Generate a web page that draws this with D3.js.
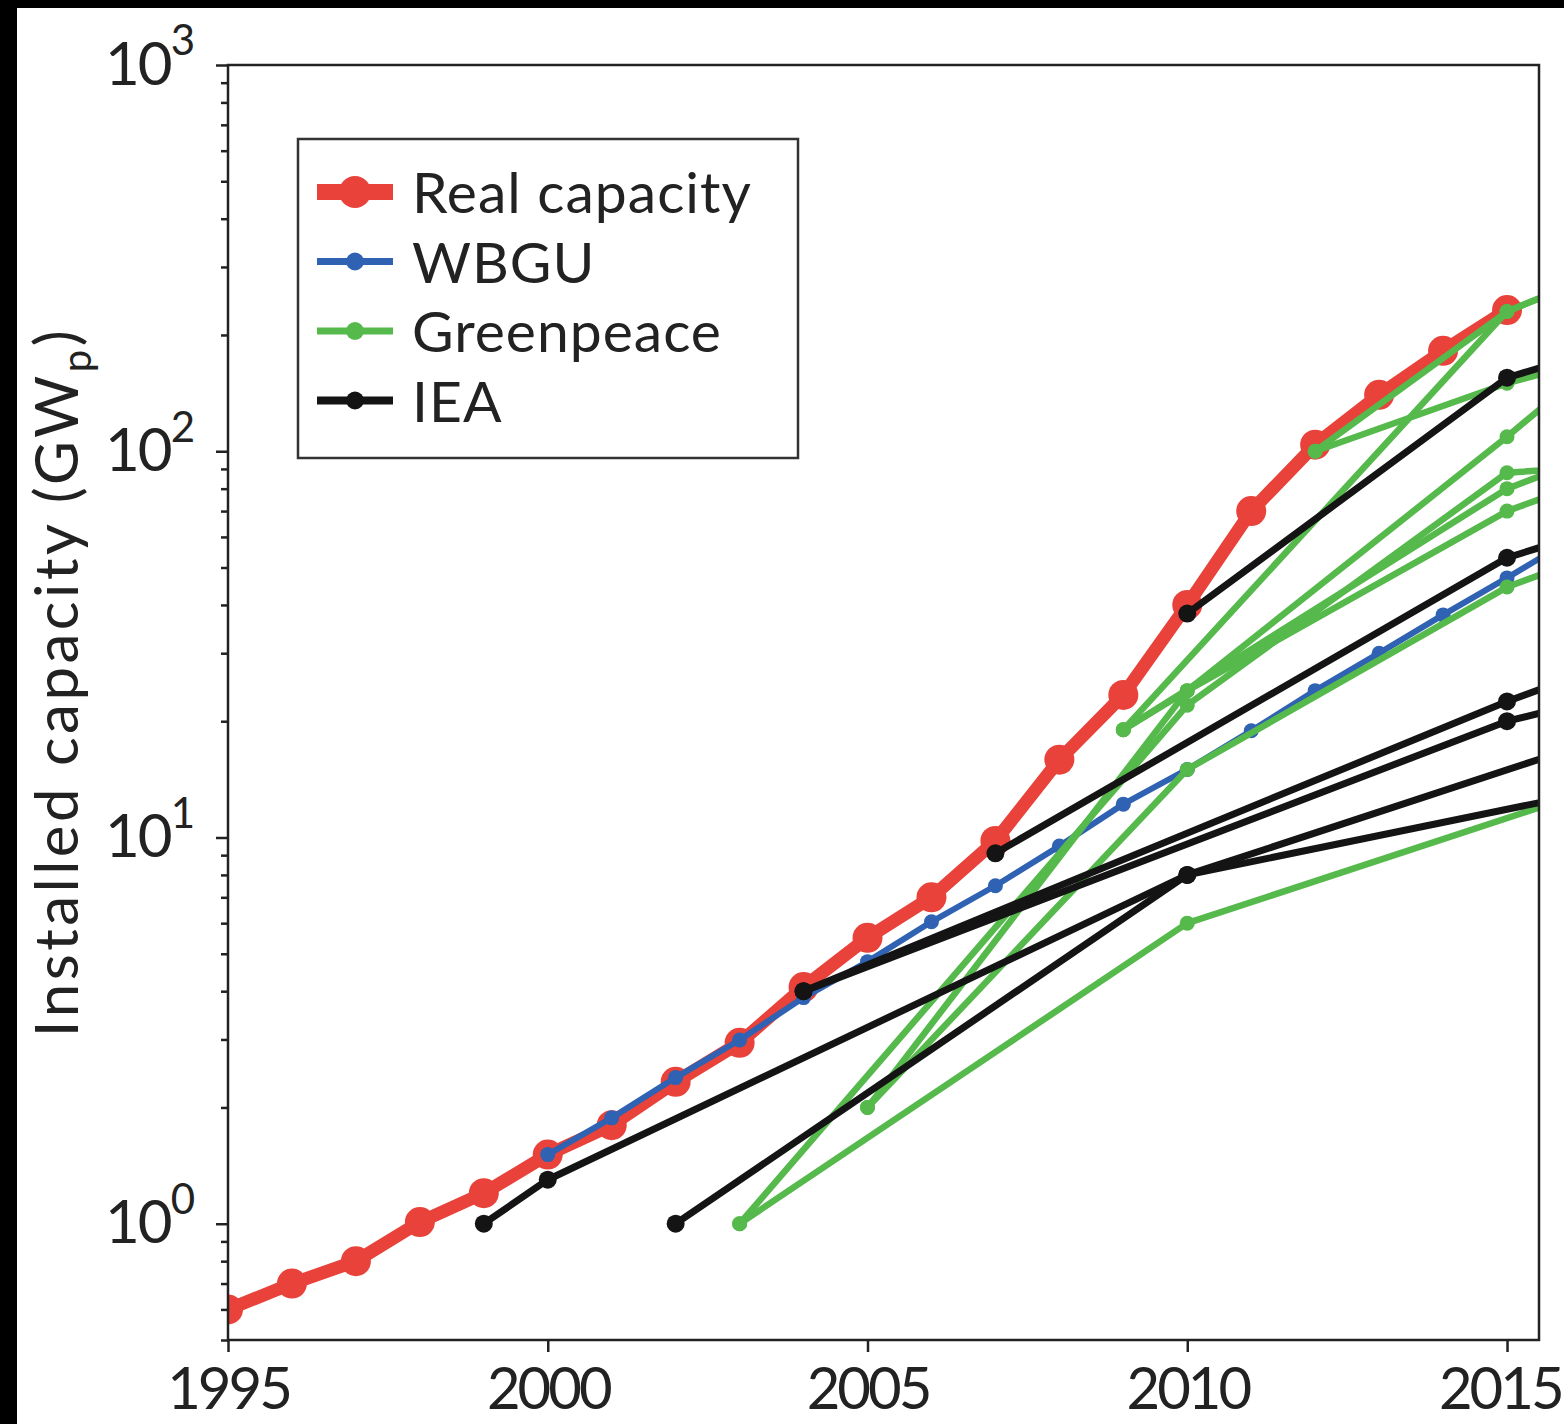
<!DOCTYPE html>
<html>
<head>
<meta charset="utf-8">
<script src="https://cdn.jsdelivr.net/npm/d3@7"></script>
<style>
  body { margin: 0; background: #000; }
  svg { display: block; }
  text { font-family: Lato, "Open Sans", sans-serif; font-weight: 400; fill: #222; }
</style>
</head>
<body>
<svg id="chart" width="1564" height="1424"></svg>
<script>

// real installed capacity, one value per year 1995..2015
const years = [1995, 1996, 1997, 1998, 1999, 2000, 2001, 2002, 2003, 2004, 2005,
               2006, 2007, 2008, 2009, 2010, 2011, 2012, 2013, 2014, 2015];
const realCapacity = [0.60, 0.70, 0.80, 1.01, 1.20, 1.51, 1.80, 2.33, 2.94, 4.1, 5.5,
                      7.0, 9.8, 15.9, 23.4, 40, 70, 104, 140, 182, 232];

// WBGU projection (yearly points, runs off the right edge)
const wbguYears = [2000, 2001, 2002, 2003, 2004, 2005, 2006, 2007, 2008,
                   2009, 2010, 2011, 2012, 2013, 2014, 2015, 2016];
const wbguValues = [1.51, 1.88, 2.39, 2.99, 3.85, 4.77, 6.05, 7.5, 9.5,
                    12.2, 15.0, 18.9, 24, 30, 37.7, 47, 59];

// Greenpeace scenarios: [year, GWp]
const greenpeace = [
  [[2003, 1.0], [2010, 6.0], [2020, 21]],
  [[2003, 1.0], [2010, 22], [2015, 88], [2020, 100]],
  [[2005, 2.0], [2010, 15], [2015, 44.5], [2020, 90]],
  [[2005, 2.0], [2010, 24], [2015, 70], [2020, 140]],
  [[2009, 19], [2015, 230], [2020, 500]],
  [[2009, 19], [2010, 24], [2015, 109], [2020, 540]],
  [[2009, 19], [2015, 80], [2020, 165]],
  [[2012, 100], [2015, 230], [2020, 500]],
  [[2012, 100], [2015, 150], [2020, 250]]
];

// IEA scenarios: [year, GWp]
const iea = [
  [[1999, 1.0], [2000, 1.3], [2010, 8.0], [2020, 17.5]],
  [[2002, 1.0], [2010, 8.0], [2020, 28]],
  [[2004, 4.0], [2015, 22.5], [2020, 45]],
  [[2004, 4.0], [2015, 20], [2020, 32]],
  [[2007, 9.1], [2015, 53], [2020, 96]],
  [[2010, 38], [2015, 155], [2020, 276]]
];

const xTicks = [1995, 2000, 2005, 2010, 2015];
const yTicks = [1, 10, 100, 1000];
const yMinorTicks = [0.5, 0.6, 0.7, 0.8, 0.9, 2, 3, 4, 5, 6, 7, 8, 9,
                     20, 30, 40, 50, 60, 70, 80, 90, 200, 300, 400, 500, 600, 700, 800, 900];
const legendLabels = ["Real capacity", "WBGU", "Greenpeace", "IEA"];

const RED = "#e8423a", BLUE = "#2f62b2", GREEN = "#56b94c", BLACK = "#141414";

const svg = d3.select("#chart");

// white page with the black scan border at top and left
svg.append("rect").attr("x", 17).attr("y", 8).attr("width", 1564 - 17).attr("height", 1424 - 8).attr("fill", "#fff");

const pLeft = 228, pTop = 65, pRight = 1539, pBottom = 1340;

const x = d3.scaleLinear().domain([1995, 2015.5]).range([pLeft, pRight]);
const y = d3.scaleLog().domain([0.5, 1000]).range([pBottom, pTop]);

svg.append("clipPath").attr("id", "plot")
  .append("rect").attr("x", pLeft).attr("y", pTop).attr("width", pRight - pLeft).attr("height", pBottom - pTop);

const plot = svg.append("g").attr("clip-path", "url(#plot)");

const line = d3.line().x(d => x(d[0])).y(d => y(d[1]));

function drawSeries(pts, color, lw, r) {
  plot.append("path").datum(pts)
    .attr("d", line)
    .attr("fill", "none")
    .attr("stroke", color)
    .attr("stroke-width", lw)
    .attr("stroke-linejoin", "round")
    .attr("stroke-linecap", "round");
  plot.append("g").selectAll("circle").data(pts).enter().append("circle")
    .attr("cx", d => x(d[0]))
    .attr("cy", d => y(d[1]))
    .attr("r", r)
    .attr("fill", color);
}

drawSeries(years.map((yr, i) => [yr, realCapacity[i]]), RED, 13, 15);
drawSeries(wbguYears.map((yr, i) => [yr, wbguValues[i]]), BLUE, 6, 7.5);
greenpeace.forEach(s => drawSeries(s, GREEN, 6.5, 7.5));
iea.forEach(s => drawSeries(s, BLACK, 7, 9));

// axes
const xAxis = svg.append("g")
  .attr("transform", "translate(0," + pBottom + ")")
  .call(d3.axisBottom(x).tickValues(xTicks).tickFormat(d3.format("d")).tickSize(12).tickPadding(16));
xAxis.select(".domain").remove();
xAxis.selectAll("line").attr("stroke", "#222").attr("stroke-width", 2.5);
xAxis.selectAll("text").attr("font-size", 58).attr("letter-spacing", -3).attr("fill", "#222");
// last label sits against the page edge, keep it inside
xAxis.selectAll("text").filter(d => d === 2015).attr("text-anchor", "end").attr("x", 54);

const yMinor = svg.append("g")
  .attr("transform", "translate(" + pLeft + ",0)")
  .call(d3.axisLeft(y).tickValues(yMinorTicks).tickFormat("").tickSize(7));
yMinor.select(".domain").remove();
yMinor.selectAll("line").attr("stroke", "#222").attr("stroke-width", 2.5);

const yAxis = svg.append("g")
  .attr("transform", "translate(" + pLeft + ",0)")
  .call(d3.axisLeft(y).tickValues(yTicks).tickSize(12).tickPadding(21));
yAxis.select(".domain").remove();
yAxis.selectAll("line").attr("stroke", "#222").attr("stroke-width", 2.5);
yAxis.selectAll("text").each(function(d) {
  const t = d3.select(this).text("").attr("font-size", 60).attr("letter-spacing", -2).attr("fill", "#222");
  t.append("tspan").text("10");
  t.append("tspan").attr("font-size", 42).attr("dy", "-0.7em").attr("letter-spacing", 0).text(Math.round(Math.log10(d)));
});

// frame
svg.append("rect")
  .attr("x", pLeft).attr("y", pTop).attr("width", pRight - pLeft).attr("height", pBottom - pTop)
  .attr("fill", "none").attr("stroke", "#222").attr("stroke-width", 2.5);

// y axis title
const yTitle = svg.append("text")
  .attr("transform", "translate(78,682) rotate(-90)")
  .attr("text-anchor", "middle")
  .attr("font-size", 60)
  .attr("letter-spacing", 3.5);
yTitle.append("tspan").text("Installed capacity (GW");
yTitle.append("tspan").attr("font-size", 40).attr("dy", 13).text("p");
yTitle.append("tspan").attr("dy", -13).text(")");

// legend
const legend = svg.append("g");
legend.append("rect")
  .attr("x", 298).attr("y", 139).attr("width", 500).attr("height", 319)
  .attr("fill", "#fff").attr("stroke", "#333").attr("stroke-width", 2.5);

const legendStyle = [
  { color: RED, lw: 16, r: 16 },
  { color: BLUE, lw: 7, r: 9 },
  { color: GREEN, lw: 7, r: 9 },
  { color: BLACK, lw: 8, r: 9 }
];
legendLabels.forEach((label, i) => {
  const cy = 192 + i * 69.5;
  const st = legendStyle[i];
  legend.append("line")
    .attr("x1", 317).attr("x2", 393).attr("y1", cy).attr("y2", cy)
    .attr("stroke", st.color).attr("stroke-width", st.lw);
  legend.append("circle").attr("cx", 355).attr("cy", cy).attr("r", st.r).attr("fill", st.color);
  legend.append("text")
    .attr("x", 412).attr("y", cy + 21)
    .attr("font-size", 57)
    .attr("letter-spacing", 1.0)
    .text(label);
});

</script>
</body>
</html>
